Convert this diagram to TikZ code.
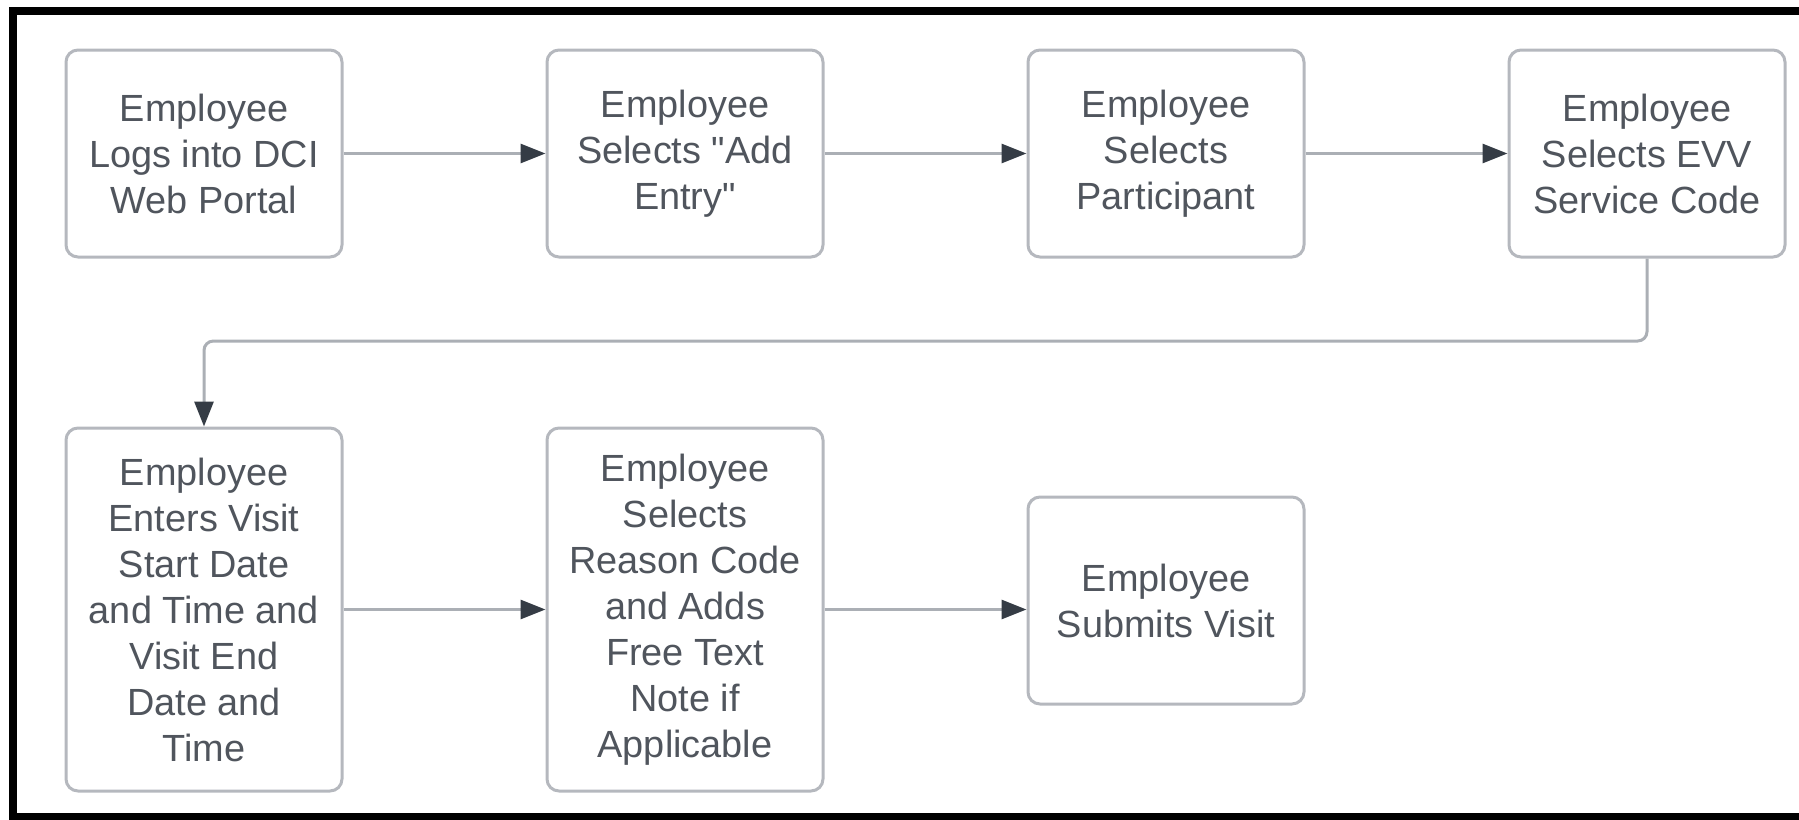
\documentclass[tikz,border=0pt]{standalone}
\usepackage{fontspec}
\newfontfamily\boxfont{Liberation Sans}
\usetikzlibrary{arrows.meta}
\definecolor{boxline}{HTML}{B5B8BE}
\definecolor{txt}{HTML}{50555D}
\definecolor{tip}{HTML}{353C45}
\definecolor{conn}{HTML}{ABAFB5}
\tikzset{
  stepbox/.style={draw=boxline, line width=2.25pt, rounded corners=9pt, fill=white,
    minimum width=207pt, inner sep=0pt, align=center, text=txt,
    font=\boxfont\fontsize{28.4}{34.5}\selectfont},
  short/.style={stepbox, minimum height=155.25pt},
  tall/.style={stepbox, minimum height=272.25pt},
  flow/.style={draw=conn, line width=2.25pt, rounded corners=7pt,
    -{Triangle[length=18.75pt, width=14.25pt, color=tip]}}
}
\begin{document}
\begin{tikzpicture}[x=0.75pt, y=-0.75pt]
\useasboundingbox (0,0) rectangle (1799,819);
\clip (0,0) rectangle (1799,819);
\draw[line width=6pt, black] (12.5,10.5) rectangle (1810,817);
\node[short] (b1) at (204,153.5) {Employee\\Logs into DCI\\Web Portal};
\node[short] (b2) at (685,153.5) {Employee\\Selects "Add\\Entry"};
\node[short] (b3) at (1166,153.5) {Employee\\Selects\\Participant};
\node[short] (b4) at (1647,153.5) {Employee\\Selects EVV\\Service Code};
\node[tall] (b5) at (204,609.5) {Employee\\Enters Visit\\Start Date\\and Time and\\Visit End\\Date and\\Time};
\node[tall] (b6) at (685,609.5) {Employee\\Selects\\Reason Code\\and Adds\\Free Text\\Note if\\Applicable};
\node[short] (b7) at (1166,600.5) {Employee\\Submits Visit};
\coordinate (bend) at (1647,341);
\draw[flow] (b1) -- (b2);
\draw[flow] (b2) -- (b3);
\draw[flow] (b3) -- (b4);
\draw[flow] (b4.south) -- (bend) -- (bend -| b5.north) -- (b5.north);
\draw[flow] (b5.east) -- (b6.west);
\draw[flow] (b6.east) -- (b6.east -| b7.west);
\end{tikzpicture}
\end{document}
